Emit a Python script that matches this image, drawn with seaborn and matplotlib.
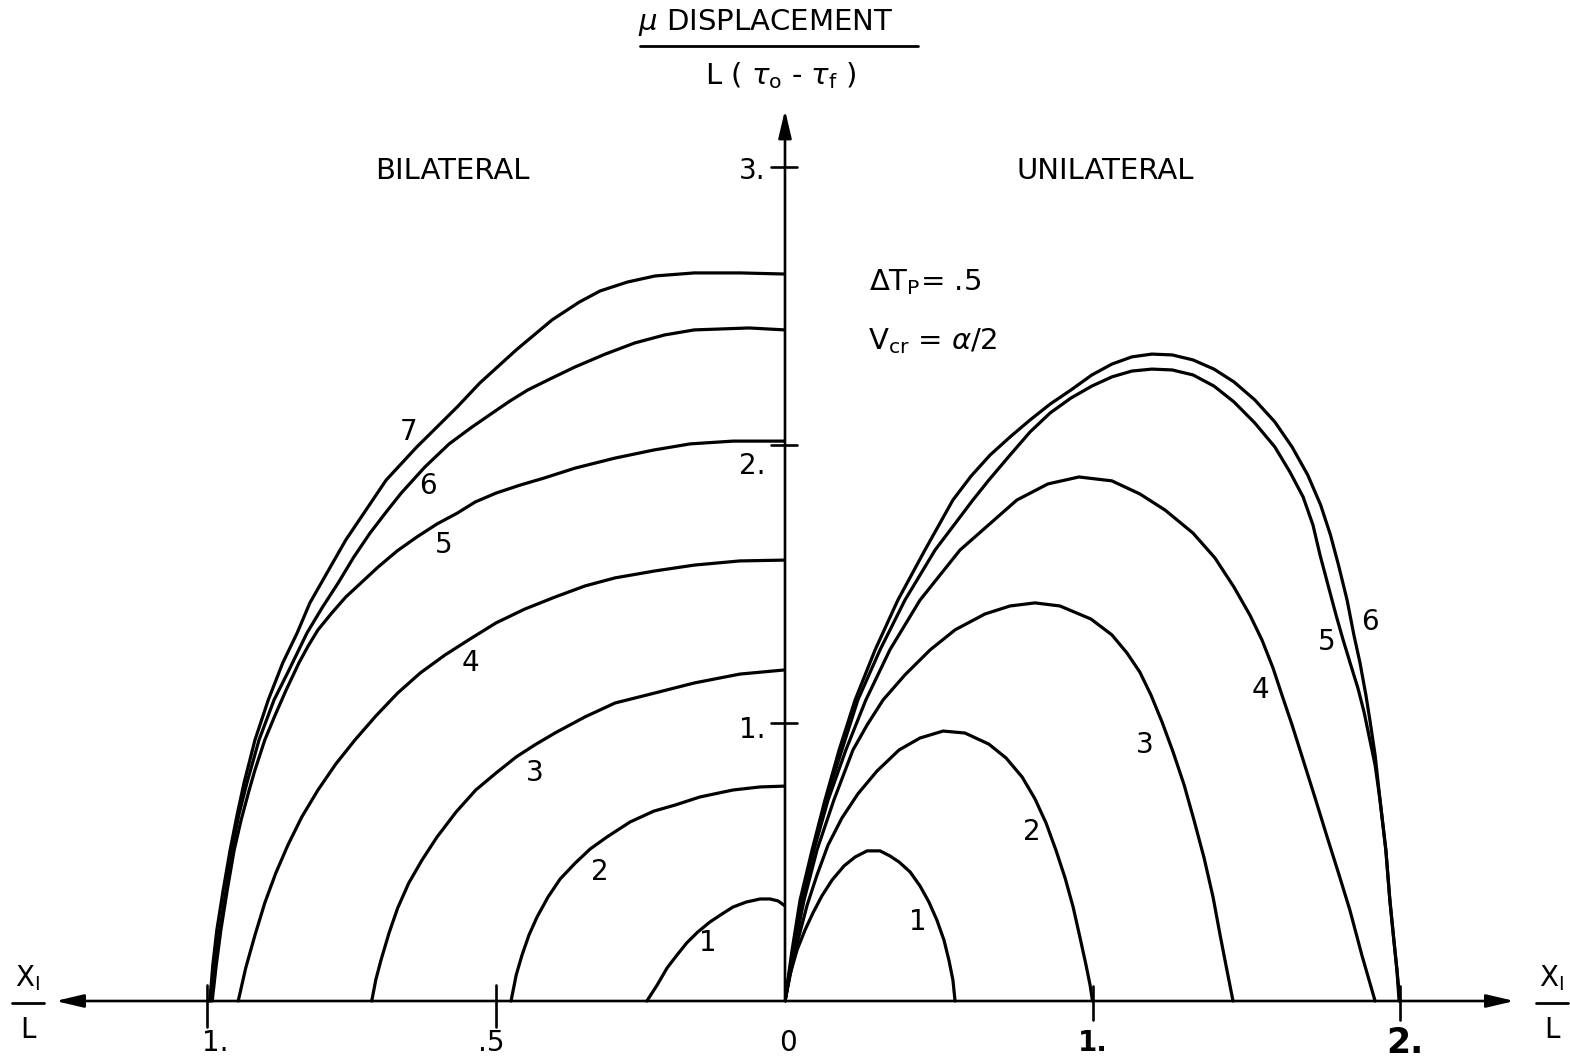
import matplotlib
matplotlib.use("Agg")
import matplotlib.pyplot as plt
import pandas as pd
import seaborn as sns
from matplotlib.lines import Line2D

sns.set_theme(style="white")
plt.rcParams["font.family"] = ["DejaVu Sans"]
plt.rcParams["mathtext.fontset"] = "dejavusans"
plt.rcParams["text.color"] = "black"

# ---- Bilateral crack: mu*displacement / (L (tau_o - tau_f)) against x1/L ----
bi_x = {
    1: [0, 0.012, 0.026, 0.043, 0.067, 0.090, 0.109, 0.130, 0.151, 0.170, 0.187, 0.204,
        0.221, 0.239],
    2: [0, 0.043, 0.090, 0.147, 0.190, 0.227, 0.268, 0.308, 0.337, 0.363, 0.389, 0.410,
        0.429, 0.443, 0.455, 0.465, 0.474],
    3: [0, 0.078, 0.157, 0.225, 0.294, 0.346, 0.398, 0.433, 0.465, 0.500, 0.535, 0.569,
        0.602, 0.628, 0.651, 0.670, 0.685, 0.699, 0.708, 0.715],
    4: [0, 0.078, 0.157, 0.225, 0.294, 0.346, 0.398, 0.450, 0.500, 0.545, 0.588, 0.631,
        0.670, 0.708, 0.744, 0.777, 0.808, 0.836, 0.860, 0.881, 0.900, 0.917, 0.933, 0.946],
    5: [0, 0.090, 0.164, 0.227, 0.294, 0.363, 0.417, 0.458, 0.500, 0.536, 0.567, 0.602,
        0.637, 0.671, 0.704, 0.732, 0.760, 0.784, 0.808, 0.825, 0.841, 0.863, 0.882, 0.900,
        0.917, 0.927, 0.941, 0.953, 0.965, 0.976, 0.984, 0.991],
    6: [0, 0.062, 0.157, 0.208, 0.260, 0.311, 0.363, 0.407, 0.445, 0.476, 0.500, 0.521,
        0.542, 0.581, 0.623, 0.664, 0.690, 0.718, 0.746, 0.773, 0.801, 0.827, 0.858, 0.884,
        0.910, 0.931, 0.945, 0.957, 0.967, 0.978, 0.988, 0.995],
    7: [0, 0.078, 0.157, 0.225, 0.273, 0.320, 0.356, 0.403, 0.465, 0.528, 0.567, 0.637,
        0.690, 0.760, 0.822, 0.844, 0.869, 0.894, 0.917, 0.936, 0.948, 0.960, 0.972, 0.983,
        0.990, 0.995],
}
bi_y = {
    1: [0.342, 0.360, 0.367, 0.367, 0.356, 0.338, 0.313, 0.284, 0.248, 0.209, 0.165, 0.119,
        0.058, 0],
    2: [0.773, 0.770, 0.759, 0.734, 0.705, 0.683, 0.644, 0.590, 0.547, 0.496, 0.439, 0.374,
        0.302, 0.237, 0.165, 0.094, 0],
    3: [1.191, 1.176, 1.144, 1.108, 1.072, 1.022, 0.964, 0.921, 0.878, 0.820, 0.759, 0.680,
        0.590, 0.507, 0.424, 0.335, 0.245, 0.147, 0.076, 0],
    4: [1.586, 1.583, 1.568, 1.547, 1.522, 1.493, 1.453, 1.410, 1.360, 1.302, 1.245, 1.180,
        1.108, 1.025, 0.939, 0.853, 0.759, 0.662, 0.561, 0.460, 0.353, 0.237, 0.119, 0],
    5: [2.014, 2.014, 2.004, 1.982, 1.953, 1.917, 1.881, 1.856, 1.827, 1.795, 1.755, 1.716,
        1.669, 1.619, 1.561, 1.507, 1.453, 1.396, 1.335, 1.277, 1.216, 1.119, 1.029, 0.939,
        0.831, 0.759, 0.651, 0.543, 0.399, 0.255, 0.129, 0],
    6: [2.414, 2.421, 2.414, 2.396, 2.367, 2.327, 2.281, 2.237, 2.198, 2.158, 2.124, 2.094,
        2.064, 2.004, 1.921, 1.827, 1.759, 1.683, 1.597, 1.504, 1.414, 1.324, 1.191, 1.083,
        0.939, 0.784, 0.669, 0.543, 0.399, 0.255, 0.129, 0],
    7: [2.615, 2.619, 2.619, 2.608, 2.586, 2.554, 2.514, 2.450, 2.342, 2.223, 2.137, 1.993,
        1.874, 1.658, 1.432, 1.324, 1.216, 1.083, 0.939, 0.784, 0.669, 0.543, 0.399, 0.255,
        0.129, 0],
}

# ---- Unilateral crack ----
uni_x = {
    1: [0, 0.016, 0.039, 0.065, 0.091, 0.120, 0.153, 0.192, 0.228, 0.267, 0.309, 0.341,
        0.371, 0.407, 0.439, 0.468, 0.494, 0.517, 0.533, 0.546, 0.553],
    2: [0, 0.020, 0.042, 0.072, 0.104, 0.140, 0.185, 0.237, 0.299, 0.371, 0.439, 0.514,
        0.585, 0.663, 0.719, 0.771, 0.813, 0.849, 0.881, 0.911, 0.937, 0.959, 0.979, 0.992,
        1.0],
    3: [0, 0.029, 0.062, 0.104, 0.159, 0.221, 0.267, 0.319, 0.390, 0.472, 0.553, 0.650,
        0.732, 0.813, 0.894, 0.995, 1.063, 1.112, 1.154, 1.190, 1.226, 1.262, 1.298, 1.330,
        1.363, 1.392, 1.415, 1.437, 1.457],
    4: [0, 0.026, 0.055, 0.094, 0.140, 0.198, 0.263, 0.341, 0.439, 0.569, 0.754, 0.855,
        0.956, 1.063, 1.154, 1.236, 1.327, 1.398, 1.460, 1.512, 1.551, 1.587, 1.616, 1.649,
        1.685, 1.724, 1.763, 1.802, 1.837, 1.876, 1.919],
    5: [0, 0.026, 0.052, 0.091, 0.133, 0.185, 0.237, 0.309, 0.390, 0.488, 0.611, 0.663,
        0.732, 0.797, 0.862, 0.930, 0.998, 1.063, 1.128, 1.193, 1.259, 1.327, 1.395, 1.460,
        1.528, 1.593, 1.642, 1.685, 1.717, 1.740, 1.766, 1.792, 1.815, 1.837, 1.863, 1.883,
        1.902, 1.919, 1.935, 1.954, 1.967, 1.980, 1.990, 1.997],
    6: [0, 0.023, 0.049, 0.088, 0.130, 0.176, 0.228, 0.293, 0.367, 0.455, 0.546, 0.605,
        0.667, 0.732, 0.797, 0.862, 0.930, 0.998, 1.063, 1.128, 1.193, 1.259, 1.327, 1.395,
        1.460, 1.528, 1.593, 1.649, 1.700, 1.742, 1.774, 1.800, 1.828, 1.850, 1.870, 1.889,
        1.902, 1.919, 1.935, 1.954, 1.967, 1.980, 1.990, 2.0],
}
uni_y = {
    1: [0, 0.094, 0.183, 0.255, 0.317, 0.378, 0.435, 0.486, 0.518, 0.540, 0.540, 0.522,
        0.500, 0.464, 0.414, 0.356, 0.291, 0.219, 0.147, 0.076, 0],
    2: [0, 0.112, 0.219, 0.345, 0.453, 0.561, 0.658, 0.745, 0.827, 0.903, 0.946, 0.971,
        0.964, 0.924, 0.874, 0.806, 0.727, 0.640, 0.543, 0.442, 0.338, 0.230, 0.129, 0.058,
        0],
    3: [0, 0.183, 0.363, 0.543, 0.723, 0.903, 0.993, 1.083, 1.173, 1.263, 1.335, 1.392,
        1.421, 1.432, 1.421, 1.374, 1.317, 1.252, 1.183, 1.101, 1.004, 0.896, 0.777, 0.651,
        0.514, 0.374, 0.237, 0.112, 0],
    4: [0, 0.183, 0.363, 0.543, 0.723, 0.903, 1.083, 1.263, 1.442, 1.622, 1.802, 1.860,
        1.885, 1.871, 1.824, 1.766, 1.683, 1.594, 1.489, 1.388, 1.299, 1.198, 1.101, 0.993,
        0.867, 0.730, 0.590, 0.453, 0.327, 0.165, 0],
    5: [0, 0.183, 0.363, 0.543, 0.723, 0.903, 1.083, 1.263, 1.442, 1.622, 1.802, 1.874,
        1.964, 2.047, 2.115, 2.169, 2.212, 2.245, 2.266, 2.273, 2.270, 2.252, 2.212, 2.155,
        2.079, 1.993, 1.903, 1.813, 1.712, 1.604, 1.496, 1.388, 1.299, 1.219, 1.126, 1.040,
        0.939, 0.849, 0.723, 0.543, 0.363, 0.219, 0.112, 0],
    6: [0, 0.183, 0.363, 0.543, 0.723, 0.903, 1.083, 1.263, 1.442, 1.622, 1.802, 1.888,
        1.964, 2.029, 2.090, 2.147, 2.198, 2.252, 2.291, 2.317, 2.327, 2.324, 2.306, 2.273,
        2.227, 2.162, 2.083, 1.993, 1.892, 1.784, 1.676, 1.568, 1.442, 1.317, 1.216, 1.101,
        1.011, 0.885, 0.723, 0.543, 0.363, 0.219, 0.112, 0],
}

# curve-number label positions (data units of each half)
bi_labels = {1: (0.133, 0.209), 2: (0.320, 0.464), 3: (0.433, 0.820), 4: (0.545, 1.216),
             5: (0.590, 1.640), 6: (0.618, 1.853), 7: (0.652, 2.047)}
uni_labels = {1: (0.433, 0.284), 2: (0.803, 0.608), 3: (1.171, 0.921), 4: (1.545, 1.119),
              5: (1.763, 1.291), 6: (1.902, 1.363)}

y_ticks = [1, 2, 3]
y_tick_labels = ["1.", "2.", "3."]


def long_frame(xs, ys):
    rows = []
    for k in xs:
        for x, y in zip(xs[k], ys[k]):
            rows.append({"curve": k, "x": x, "y": y})
    return pd.DataFrame(rows)


bi_df = long_frame(bi_x, bi_y)
uni_df = long_frame(uni_x, uni_y)

W, H = 1570, 1058
fig = plt.figure(figsize=(W / 100, H / 100), dpi=100)
fig.patch.set_facecolor("white")

# origin at pixel (785, 1001); horizontal scale differs between the two halves
ox, oy = 785, 1001
sl, sr, sy = 578.0, 307.5, 278.0
ylim = ((oy - H) / sy, oy / sy)

axL = fig.add_axes([0, 0, ox / W, 1])
axR = fig.add_axes([ox / W, 0, 1 - ox / W, 1])

LW = 2.3
sns.lineplot(data=bi_df, x="x", y="y", units="curve", estimator=None, sort=False,
             color="black", lw=LW, ax=axL, legend=False)
sns.lineplot(data=uni_df, x="x", y="y", units="curve", estimator=None, sort=False,
             color="black", lw=LW, ax=axR, legend=False)

axL.set_xlim(ox / sl, 0)
axR.set_xlim(0, (W - ox) / sr)
for ax in (axL, axR):
    ax.set_ylim(*ylim)
    ax.set_xlabel("")
    ax.set_ylabel("")
    ax.axis("off")
    ax.patch.set_alpha(0)

AX_LW = 1.9
arrow_kw = dict(arrowstyle="-|>,head_length=1.4,head_width=0.33", color="black",
                lw=AX_LW, shrinkA=0, shrinkB=0)
axL.annotate("", xy=(1.262, 0), xytext=(0, 0), arrowprops=arrow_kw, annotation_clip=False)
axR.annotate("", xy=(2.372, 0), xytext=(0, 0), arrowprops=arrow_kw, annotation_clip=False)
axR.annotate("", xy=(0, 3.205), xytext=(0, 0), arrowprops=arrow_kw, annotation_clip=False)

for yv in y_ticks:
    axR.plot([-0.045, 0.040], [yv, yv], color="black", lw=AX_LW, clip_on=False)
for xv in (1.0, 0.5):
    axL.plot([xv, xv], [0.058, -0.095], color="black", lw=AX_LW, clip_on=False)
for xv in (1.0, 2.0):
    axR.plot([xv, xv], [0.055, -0.07], color="black", lw=AX_LW, clip_on=False)

FS = 20
txt = dict(color="black", fontsize=FS)
# vertical tick labels ("2." sits below its tick)
axR.text(-0.062, 2.985, y_tick_labels[2], ha="right", va="center", **txt)
axR.text(-0.062, 1.925, y_tick_labels[1], ha="right", va="center", **txt)
axR.text(-0.062, 0.975, y_tick_labels[0], ha="right", va="center", **txt)
# horizontal tick labels
axL.text(0.985, -0.152, "1.", ha="center", va="center", **txt)
axL.text(0.508, -0.152, ".5", ha="center", va="center", **txt)
axR.text(0.010, -0.152, "0", ha="center", va="center", **txt)
axR.text(1.002, -0.152, "1.", ha="center", va="center", color="black", fontsize=FS,
         fontweight="bold")
axR.text(2.016, -0.152, "2.", ha="center", va="center", color="black", fontsize=FS + 5,
         fontweight="bold")

for k, (x, y) in bi_labels.items():
    axL.text(x, y, str(k), ha="center", va="center", **txt)
for k, (x, y) in uni_labels.items():
    axR.text(x, y, str(k), ha="center", va="center", **txt)

axL.text(0.576, 2.985, "BILATERAL", ha="center", va="center", color="black", fontsize=FS + 1)
axR.text(1.041, 2.985, "UNILATERAL", ha="center", va="center", color="black", fontsize=FS + 1)
axR.text(0.272, 2.585, r"$\Delta$T$_{\mathrm{P}}$= .5", ha="left", va="center",
         color="black", fontsize=FS + 1)
axR.text(0.270, 2.375, r"V$_{\mathrm{cr}}$ = $\alpha$/2", ha="left", va="center",
         color="black", fontsize=FS + 1)

# vertical-axis quantity written as a fraction
fig.text(766 / W, 1 - 22 / H, r"$\mu$ DISPLACEMENT", ha="center", va="center",
         color="black", fontsize=FS + 1)
fig.add_artist(Line2D([640 / W, 918 / W], [1 - 46 / H, 1 - 46 / H], color="black", lw=2.0))
fig.text(781 / W, 1 - 76 / H, r"L ( $\tau_{\mathrm{o}}$ - $\tau_{\mathrm{f}}$ )",
         ha="center", va="center", color="black", fontsize=FS + 1)

# horizontal-axis quantity at both ends
for cx in (28, 1552):
    fig.text(cx / W, 1 - 978 / H, r"X$_{\mathrm{I}}$", ha="center", va="center", **txt)
    fig.add_artist(Line2D([(cx - 16) / W, (cx + 16) / W], [1 - 1003 / H, 1 - 1003 / H],
                          color="black", lw=2.0))
    fig.text(cx / W, 1 - 1030 / H, "L", ha="center", va="center", **txt)

fig.savefig("out.png", dpi=100, facecolor="white")
